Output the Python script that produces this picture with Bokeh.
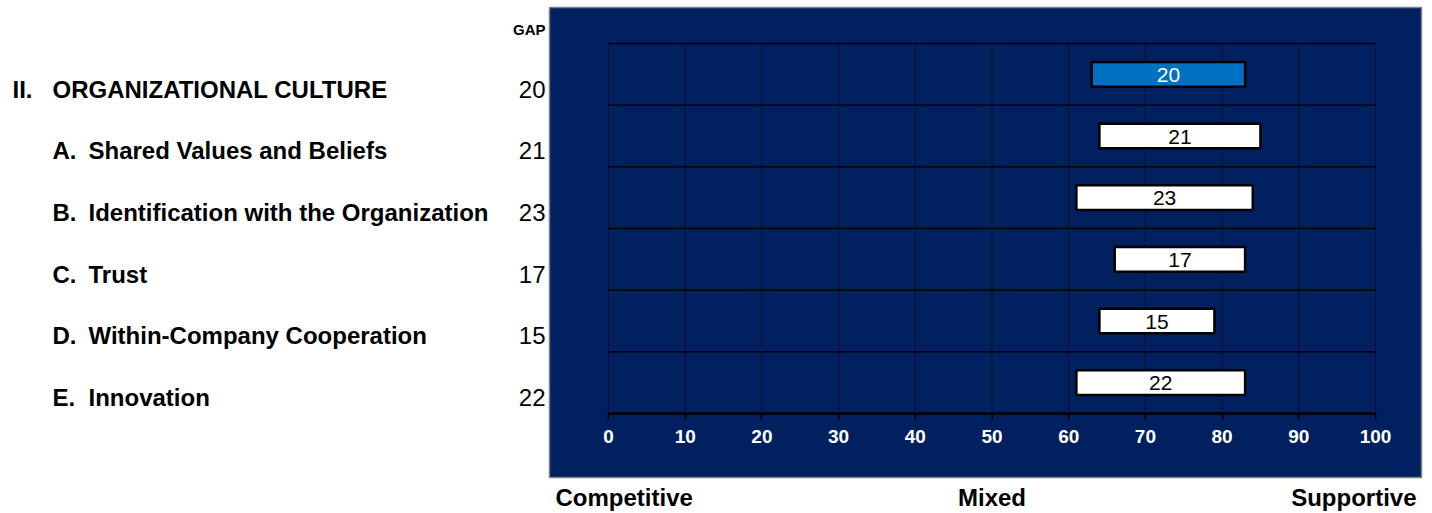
from bokeh.plotting import figure
from bokeh.models import Range1d, LinearAxis, FixedTicker, ColumnDataSource
from bokeh.core.properties import value
from bokeh.embed import file_html
from bokeh.resources import INLINE

# ---- data -------------------------------------------------------------
prefixes = ["II.", "A.", "B.", "C.", "D.", "E."]
categories = [
    "ORGANIZATIONAL CULTURE",
    "Shared Values and Beliefs",
    "Identification with the Organization",
    "Trust",
    "Within-Company Cooperation",
    "Innovation",
]
low = [63, 64, 61, 66, 64, 61]          # left end of each range bar
gap = [20, 21, 23, 17, 15, 22]          # width of each range bar (GAP)
x_ticks = [0, 10, 20, 30, 40, 50, 60, 70, 80, 90, 100]
scale_labels = ["Competitive", "Mixed", "Supportive"]
scale_points = [0, 50, 100]
gap_header = "GAP"

# ---- layout (pixels) -------------------------------------------------
W, H = 1432, 513
SCALE_MIN, SCALE_MAX = 0, 100
PLOT_L, PLOT_R = 608, 1375      # pixel x of SCALE_MIN / SCALE_MAX
PLOT_T, PLOT_B = 43, 413        # pixel y of top of first row / bottom of last row
PANEL = (549, 1421, 7, 477)     # navy panel: left, right, top, bottom

FONT = "Liberation Sans"
NAVY = "#002060"
BLUE = "#0070C0"
LABEL_SIZE = "24px"

n = len(categories)
px_per_x = (PLOT_R - PLOT_L) / (SCALE_MAX - SCALE_MIN)
px_per_row = (PLOT_B - PLOT_T) / n


def fx(px):
    return SCALE_MIN + (px - PLOT_L) / px_per_x


def fy(py):
    return (py - PLOT_T) / px_per_row


p = figure(
    width=W, height=H,
    x_range=Range1d(fx(0), fx(W)),
    y_range=Range1d(fy(H), fy(0)),
    min_border=0,
    x_axis_type=None, y_axis_type=None,
    toolbar_location=None,
    output_backend="svg",
    outline_line_color=None,
    background_fill_color="white",
    border_fill_color="white",
)
p.grid.visible = False

# navy panel behind the chart
p.quad(left=[fx(PANEL[0])], right=[fx(PANEL[1])],
       top=[fy(PANEL[2])], bottom=[fy(PANEL[3])],
       fill_color=NAVY, line_color="#7f7f7f", line_width=1.5)

# vertical dotted gridlines at each tick
p.segment(x0=x_ticks, x1=x_ticks, y0=[0] * len(x_ticks), y1=[n] * len(x_ticks),
          line_color="black", line_width=1, line_dash="2 2")

# solid row separators (top border included)
rows = list(range(n))
p.segment(x0=[SCALE_MIN] * n, x1=[SCALE_MAX] * n, y0=rows, y1=rows,
          line_color="black", line_width=1.5)

# range bars
high = [l + g for l, g in zip(low, gap)]
src = ColumnDataSource(dict(
    left=low, right=high,
    top=[r + 0.3 for r in rows], bottom=[r + 0.7 for r in rows],
    mid_x=[(l + h) / 2 for l, h in zip(low, high)],
    mid_y=[r + 0.51 for r in rows],
    label=[str(g) for g in gap],
    fill=[BLUE] + ["white"] * (n - 1),
    tcolor=["white"] + ["black"] * (n - 1),
))
p.quad(left="left", right="right", top="top", bottom="bottom", source=src,
       fill_color="fill", line_color="black", line_width=2.5)
p.text(x="mid_x", y="mid_y", text="label", source=src,
       text_color="tcolor", text_font=value(FONT), text_font_size="21px",
       text_align="center", text_baseline="middle")

# category labels and GAP column on the left
lab_y = [r + 0.74 for r in rows]
p.text(x=[fx(12)] + [fx(52)] * (n - 1), y=lab_y, text=prefixes,
       text_font=value(FONT), text_font_size=LABEL_SIZE, text_font_style="bold",
       text_color="black", text_align="left", text_baseline="middle")
p.text(x=[fx(52)] + [fx(88)] * (n - 1), y=lab_y, text=categories,
       text_font=value(FONT), text_font_size=LABEL_SIZE, text_font_style="bold",
       text_color="black", text_align="left", text_baseline="middle")
p.text(x=[fx(545)] * n, y=lab_y, text=[str(g) for g in gap],
       text_font=value(FONT), text_font_size=LABEL_SIZE,
       text_color="black", text_align="right", text_baseline="middle")
p.text(x=[fx(545)], y=[fy(29)], text=[gap_header],
       text_font=value(FONT), text_font_size="15px", text_font_style="bold",
       text_color="black", text_align="right", text_baseline="middle")

# scale anchors under the panel
p.text(x=[fx(555), scale_points[1], fx(1416)], y=[fy(497)] * 3, text=scale_labels,
       text_font=value(FONT), text_font_size=LABEL_SIZE, text_font_style="bold",
       text_color="black", text_align=["left", "center", "right"],
       text_baseline="middle")

# score axis drawn along the bottom of the last row
axis = LinearAxis(
    fixed_location=n,
    ticker=FixedTicker(ticks=x_ticks),
    bounds=(SCALE_MIN, SCALE_MAX),
    axis_line_color="black", axis_line_width=2.5,
    major_tick_line_color="black", major_tick_line_width=2,
    major_tick_in=0, major_tick_out=6,
    minor_tick_line_color=None,
    major_label_standoff=10,
    major_label_text_color="white",
    major_label_text_font=FONT,
    major_label_text_font_size="19px",
    major_label_text_font_style="bold",
)
p.add_layout(axis, "below")

open("out.html", "w").write(file_html(p, INLINE))
